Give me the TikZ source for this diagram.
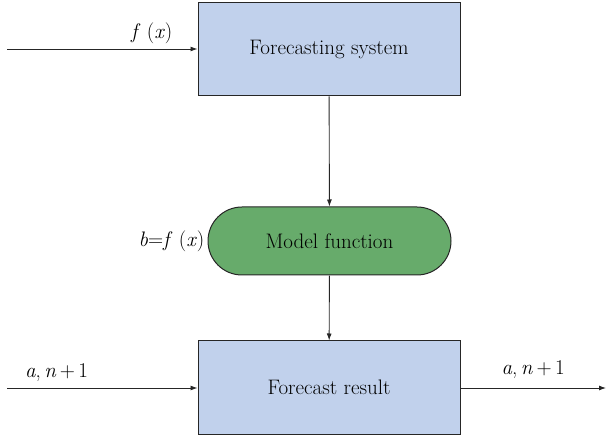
\documentclass[tikz,border=0pt]{standalone}
\usetikzlibrary{shapes.misc,arrows.meta}
\definecolor{boxblue}{HTML}{C1D1EC}
\definecolor{boxgreen}{HTML}{67AB6B}
\begin{document}
\begin{tikzpicture}[x=1pt,y=-1pt,
  every node/.style={font=\fontsize{21}{25}\selectfont},
  blockbox/.style={draw=black!85,line width=1pt,fill=boxblue,minimum width=262pt,minimum height=93pt,inner sep=0pt},
  pill/.style={draw=black!85,line width=1pt,fill=boxgreen,rounded rectangle,minimum width=243pt,minimum height=68pt,inner sep=0pt},
  link/.style={draw=black!85,line width=0.9pt,-{Latex[length=7pt,width=5pt]}}]
\useasboundingbox (0,0) rectangle (608,438);
\node[blockbox] (fs) at (329,49.5) {Forecasting system};
\node[pill] (mf) at (329.5,241) {Model function};
\node[blockbox] (fr) at (329,387.5) {Forecast result};
\coordinate (inA) at (7,49);
\coordinate (inB) at (7,388);
\coordinate (outB) at (606,388);
\draw[link] (inA) -- (fs.west |- inA) node[pos=0.76,above=1pt] {\textit{f}\ (\textit{x})};
\draw[link] (inB) -- (fr.west |- inB) node[pos=0.26,above=3pt] {\textit{a},\,\textit{n}\,+\,1};
\draw[link] (fr.east |- outB) -- (outB) node[pos=0.5,above=6pt] {\textit{a},\,\textit{n}\,+\,1};
\draw[link] (fs) -- (mf);
\draw[link] (mf) -- (fr);
\node[anchor=east,inner sep=3pt] (bl) at (mf.west) {\textit{b}=\textit{f}\ (\textit{x})};
\end{tikzpicture}
\end{document}
